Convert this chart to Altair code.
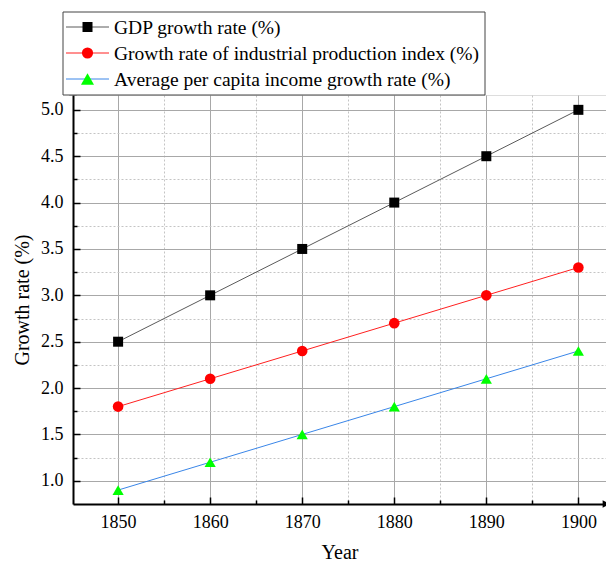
import altair as alt
import pandas as pd

years = [1850, 1860, 1870, 1880, 1890, 1900]
gdp = [2.5, 3.0, 3.5, 4.0, 4.5, 5.0]
industrial = [1.8, 2.1, 2.4, 2.7, 3.0, 3.3]
income = [0.9, 1.2, 1.5, 1.8, 2.1, 2.4]
series_names = [
    "GDP growth rate (%)",
    "Growth rate of industrial production index (%)",
    "Average per capita income growth rate (%)",
]
marker_colors = ["#000000", "#ff0000", "#00ff00"]
line_colors = ["#5a5a5a", "#ff2020", "#3a86e8"]
marker_shapes = ["square", "circle", "triangle-up"]
marker_sizes = [100, 125, 170]
x_major = [1850, 1860, 1870, 1880, 1890, 1900]
x_minor = [1855, 1865, 1875, 1885, 1895]
y_major = [1.0, 1.5, 2.0, 2.5, 3.0, 3.5, 4.0, 4.5, 5.0]
y_minor = [1.25, 1.75, 2.25, 2.75, 3.25, 3.75, 4.25, 4.75]

rows = []
for name, vals in zip(series_names, [gdp, industrial, income]):
    for yr, v in zip(years, vals):
        rows.append({"year": yr, "value": v, "series": name})
df = pd.DataFrame(rows)

W, H = 533, 409
FONT = "Liberation Serif"
xscale = alt.Scale(domain=[1845.1, 1903.0], nice=False, zero=False)
yscale = alt.Scale(domain=[0.75, 5.16], nice=False, zero=False)

base = alt.Chart(df)

minor_grid = base.mark_point(opacity=0).encode(
    x=alt.X("year:Q", scale=xscale, axis=alt.Axis(
        values=x_minor, grid=True, gridColor="#c4c4c4", gridDash=[2, 2], gridWidth=1,
        ticks=False, labels=False, domain=False, title=None)),
    y=alt.Y("value:Q", scale=yscale, axis=alt.Axis(
        values=y_minor, grid=True, gridColor="#c4c4c4", gridDash=[2, 2], gridWidth=1,
        ticks=False, labels=False, domain=False, title=None)),
)

minor_ticks = base.mark_point(opacity=0).encode(
    x=alt.X("year:Q", scale=xscale, axis=alt.Axis(
        orient="top", offset=-H, values=x_minor, grid=False, ticks=True, tickSize=4,
        tickColor="black", tickWidth=1.5, labels=False, domain=False, title=None)),
    y=alt.Y("value:Q", scale=yscale, axis=alt.Axis(
        orient="right", offset=-W, values=y_minor, grid=False, ticks=True, tickSize=4,
        tickColor="black", tickWidth=1.5, labels=False, domain=False, title=None)),
)

major_ticks = base.mark_point(opacity=0).encode(
    x=alt.X("year:Q", scale=xscale, axis=alt.Axis(
        orient="top", offset=-H, values=x_major, grid=False, ticks=True, tickSize=7,
        tickColor="black", tickWidth=1.5, labels=False, domain=False, title=None)),
    y=alt.Y("value:Q", scale=yscale, axis=alt.Axis(
        orient="right", offset=-W, values=y_major, grid=False, ticks=True, tickSize=7,
        tickColor="black", tickWidth=1.5, labels=False, domain=False, title=None)),
)

lines = base.mark_line(strokeWidth=1).encode(
    x=alt.X("year:Q", scale=xscale, axis=alt.Axis(
        values=x_major, format="d", grid=True, gridColor="#a8a8a8", gridWidth=1, ticks=False,
        labels=True, labelFont=FONT, labelFontSize=18, labelColor="black", labelPadding=9,
        domain=True, domainColor="black", domainWidth=2, title="Year",
        titleFont=FONT, titleFontSize=20, titleFontWeight="normal", titleColor="black",
        titlePadding=11)),
    y=alt.Y("value:Q", scale=yscale, axis=alt.Axis(
        values=y_major, format=".1f", grid=True, gridColor="#a8a8a8", gridWidth=1, ticks=False,
        labels=True, labelFont=FONT, labelFontSize=18, labelColor="black", labelPadding=10,
        domain=True, domainColor="black", domainWidth=2, title="Growth rate (%)",
        titleFont=FONT, titleFontSize=20, titleFontWeight="normal", titleColor="black",
        titlePadding=8)),
    color=alt.Color("series:N", scale=alt.Scale(domain=series_names, range=line_colors),
                    legend=None),
)

points = base.mark_point(filled=True, opacity=1).encode(
    x=alt.X("year:Q", scale=xscale, axis=None),
    y=alt.Y("value:Q", scale=yscale, axis=None),
    fill=alt.Fill("series:N", scale=alt.Scale(domain=series_names, range=marker_colors),
                  legend=None),
    shape=alt.Shape("series:N", scale=alt.Scale(domain=series_names, range=marker_shapes),
                    legend=None),
    size=alt.Size("series:N", scale=alt.Scale(domain=series_names, range=marker_sizes),
                  legend=None),
)

one = alt.Data(values=[{"k": 1}])
arrow_y = alt.Chart(one).mark_point(shape="triangle-up", filled=True, color="black",
                                    size=60, opacity=1).encode(
    x=alt.value(0), y=alt.value(-3))
arrow_x = alt.Chart(one).mark_point(shape="triangle-right", filled=True, color="black",
                                    size=60, opacity=1).encode(
    x=alt.value(W), y=alt.value(H))

# legend drawn as a framed box (positions are layout, not data)
legend_layers = [
    alt.Chart(one).mark_rect(fill="white", stroke="#444444", strokeWidth=1).encode(
        x=alt.value(-10), x2=alt.value(412), y=alt.value(-83), y2=alt.value(0))
]
row_y = [-68, -42, -16]
for i, name in enumerate(series_names):
    ldf = pd.DataFrame({"series": [name]})
    legend_layers.append(
        alt.Chart(ldf).mark_rule(color=line_colors[i], strokeWidth=1).encode(
            x=alt.value(-7), x2=alt.value(36), y=alt.value(row_y[i])))
    legend_layers.append(
        alt.Chart(ldf).mark_point(shape=marker_shapes[i], filled=True, opacity=1,
                                  color=marker_colors[i], size=marker_sizes[i]).encode(
            x=alt.value(14.5), y=alt.value(row_y[i])))
    legend_layers.append(
        alt.Chart(ldf).mark_text(align="left", baseline="middle", font=FONT, fontSize=19.5,
                                 color="black").encode(
            text="series:N", x=alt.value(41), y=alt.value(row_y[i] + 1)))

chart = alt.layer(
    minor_grid, minor_ticks, major_ticks, lines, points, arrow_y, arrow_x, *legend_layers
).resolve_axis(
    x="independent", y="independent"
).properties(
    width=W, height=H,
    autosize=alt.AutoSizeParams(type="none"),
    padding={"left": 65, "top": 87, "right": 0, "bottom": 59},
).configure_view(stroke=None).configure(font=FONT)

chart.save("out.html", embed_options={"renderer": "svg", "actions": False})
